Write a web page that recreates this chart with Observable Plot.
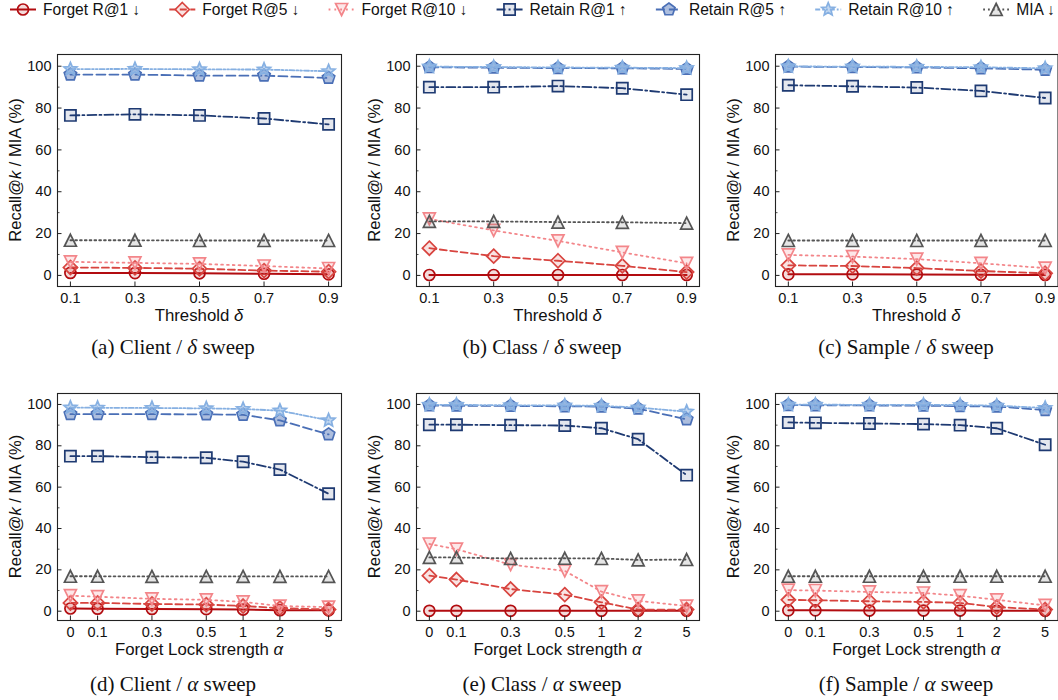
<!DOCTYPE html>
<html><head><meta charset="utf-8">
<script src="https://cdn.jsdelivr.net/npm/d3@7"></script>
<script src="https://cdn.jsdelivr.net/npm/@observablehq/plot@0.6"></script>
<style>
body{margin:0;background:#fff;}
#root{position:relative;width:1058px;height:700px;overflow:hidden;font-family:"Liberation Sans",Arial,sans-serif;background:#fff;}
#root svg{position:absolute;}
</style></head><body><div id="root"></div>
<script>
// ---------- data ----------
const deltaX = [0.1, 0.3, 0.5, 0.7, 0.9];
const deltaLabels = ["0.1", "0.3", "0.5", "0.7", "0.9"];
const alphaX = [0, 0.1, 0.3, 0.5, 1, 2, 5];
const alphaLabels = ["0", "0.1", "0.3", "0.5", "1", "2", "5"];
const yTicks = [0, 20, 40, 60, 80, 100];
const yMinor = [10, 30, 50, 70, 90];

const seriesKeys = ["F1", "F5", "F10", "R1", "R5", "R10", "MIA"];
const seriesLabels = ["Forget R@1 ↓", "Forget R@5 ↓", "Forget R@10 ↓", "Retain R@1 ↑", "Retain R@5 ↑", "Retain R@10 ↑", "MIA ↓"];
const seriesColors = ["#b20c10", "#d8443f", "#f3868a", "#1e3a72", "#4a6fb6", "#86b0e2", "#555555"];

// values in series order: F1, F5, F10, R1, R5, R10, MIA
const clientDelta = [
  [1.2, 1.1, 1.0, 0.8, 0.5],
  [3.8, 3.6, 3.2, 2.3, 1.8],
  [6.5, 6.0, 5.5, 4.5, 3.3],
  [76.5, 77.0, 76.5, 75.0, 72.2],
  [96.0, 96.0, 95.5, 95.5, 94.4],
  [98.6, 98.7, 98.5, 98.4, 97.6],
  [16.8, 16.8, 16.7, 16.7, 16.7]
];
const classDelta = [
  [0.2, 0.2, 0.2, 0.2, 0.2],
  [13.0, 9.2, 7.0, 4.6, 1.6],
  [27.0, 21.5, 16.5, 11.0, 5.8],
  [90.0, 90.0, 90.5, 89.5, 86.4],
  [99.5, 99.3, 99.1, 99.0, 98.7],
  [99.8, 99.6, 99.4, 99.3, 99.1],
  [25.8, 25.8, 25.5, 25.4, 25.0]
];
const sampleDelta = [
  [0.5, 0.5, 0.4, 0.3, 0.2],
  [4.8, 4.5, 3.5, 2.1, 1.0],
  [9.8, 9.0, 7.8, 5.8, 3.5],
  [90.9, 90.4, 89.8, 88.2, 84.8],
  [99.8, 99.6, 99.4, 99.0, 98.3],
  [99.9, 99.8, 99.7, 99.5, 99.0],
  [16.7, 16.7, 16.7, 16.7, 16.7]
];
const clientAlpha = [
  [1.3, 1.2, 1.1, 1.0, 0.8, 0.5, 0.4],
  [4.0, 4.0, 3.5, 3.2, 2.5, 1.5, 0.8],
  [7.5, 7.0, 6.0, 5.5, 4.5, 2.5, 2.0],
  [75.0, 75.0, 74.5, 74.2, 72.3, 68.5, 56.8],
  [95.3, 95.3, 95.3, 95.2, 95.0, 92.3, 85.5],
  [98.5, 98.4, 98.3, 98.1, 97.8, 97.0, 92.3],
  [16.9, 16.9, 16.8, 16.8, 16.8, 16.8, 16.8]
];
const classAlpha = [
  [0.2, 0.2, 0.2, 0.2, 0.2, 0.2, 0.2],
  [17.2, 15.3, 10.7, 8.0, 4.3, 0.8, 0.8],
  [32.5, 30.0, 22.5, 19.5, 9.5, 5.0, 2.5],
  [90.2, 90.2, 90.0, 89.8, 88.5, 83.2, 65.8],
  [99.5, 99.4, 99.3, 99.1, 99.0, 98.0, 92.8],
  [99.8, 99.8, 99.6, 99.5, 99.3, 98.5, 96.5],
  [26.0, 26.0, 25.5, 25.6, 25.5, 24.8, 25.0]
];
const sampleAlpha = [
  [0.4, 0.4, 0.3, 0.3, 0.3, 0.2, 0.2],
  [5.5, 5.3, 4.8, 4.5, 4.0, 2.0, 0.8],
  [10.2, 10.0, 9.3, 8.8, 7.5, 5.5, 2.8],
  [91.3, 91.1, 90.8, 90.5, 90.0, 88.5, 80.5],
  [99.7, 99.6, 99.5, 99.4, 99.2, 99.0, 97.3],
  [99.9, 99.9, 99.8, 99.8, 99.7, 99.4, 98.3],
  [16.9, 16.9, 16.9, 16.9, 16.9, 16.9, 16.9]
];

// ---------- styles ----------
const poly = (pts) => ({draw(ctx, size) {
  const R = Math.sqrt(size / Math.PI);
  pts.forEach(([x, y], i) => i ? ctx.lineTo(x * R, y * R) : ctx.moveTo(x * R, y * R));
  ctx.closePath();
}});
const diamondSym = poly([[0, -1], [1, 0], [0, 1], [-1, 0]]);
const triDownSym = poly([[0, 1], [-1, -1], [1, -1]]);
const triUpSym = poly([[0, -1], [1, 1], [-1, 1]]);
const squareSym = poly([[-1, -1], [1, -1], [1, 1], [-1, 1]]);
const pentSym = poly(d3.range(5).map(k => { const a = -Math.PI / 2 + k * 2 * Math.PI / 5; return [Math.cos(a), Math.sin(a)]; }));
const starSym = poly(d3.range(10).map(k => { const a = -Math.PI / 2 + k * Math.PI / 5, rr = k % 2 ? 0.45 : 1; return [rr * Math.cos(a), rr * Math.sin(a)]; }));

const seriesStyle = [
  {symbol: d3.symbolCircle, r: 5.5, dash: null, lw: 2.0, fo: 0.15},
  {symbol: diamondSym, r: 7, dash: "7,3.5", lw: 1.8, fo: 0.15},
  {symbol: triDownSym, r: 6, dash: "1.8,4", lw: 1.8, fo: 0.2},
  {symbol: squareSym, r: 5.6, dash: "9,3,2,3", lw: 1.8, fo: 0.12},
  {symbol: pentSym, r: 6.5, dash: "9,4", lw: 1.8, fo: 0.45},
  {symbol: starSym, r: 6.8, dash: "5,2,1.8,2,1.8,2", lw: 1.8, fo: 0.5},
  {symbol: triUpSym, r: 6, dash: "1.8,3", lw: 1.8, fo: 0.15}
];

function symlogA(v) {
  const c = 0.5, ls = 1 / (1 - 1 / 10);
  return Math.abs(v) <= c ? v * ls : Math.sign(v) * c * (ls + Math.log10(Math.abs(v) / c));
}

const root = document.getElementById("root");

// ---------- panels ----------
const colFrames = [[57, 341], [416, 699], [775, 1057.5]];
const rowFrames = [[54, 286], [393, 620]];
const panels = [
  {vals: clientDelta, row: 0, col: 0, kind: "delta", cap: ["(a) Client / ", "δ", " sweep"]},
  {vals: classDelta, row: 0, col: 1, kind: "delta", cap: ["(b) Class / ", "δ", " sweep"]},
  {vals: sampleDelta, row: 0, col: 2, kind: "delta", cap: ["(c) Sample / ", "δ", " sweep"]},
  {vals: clientAlpha, row: 1, col: 0, kind: "alpha", cap: ["(d) Client / ", "α", " sweep"]},
  {vals: classAlpha, row: 1, col: 1, kind: "alpha", cap: ["(e) Class / ", "α", " sweep"]},
  {vals: sampleAlpha, row: 1, col: 2, kind: "alpha", cap: ["(f) Sample / ", "α", " sweep"]}
];
const capCenters = [173, 542, 906];
const capBaselines = [354, 691];

const mL = 57, mR = 8, mT = 8, mB = 52;

panels.forEach(p => {
  const [fl, fr] = colFrames[p.col];
  const [ft, fb] = rowFrames[p.row];
  const W = fr - fl, H = fb - ft;
  const isA = p.kind === "alpha";
  const xs = isA ? alphaX.map(symlogA) : deltaX;
  const labels = isA ? alphaLabels : deltaLabels;
  const labelMap = new Map(xs.map((x, i) => [x.toFixed(6), labels[i]]));
  const xDomain = isA ? [-0.0528, symlogA(5) + 0.0528] : [0.06, 0.94];
  const yDomain = p.row === 0 ? [-5.3, 105.6] : [-4.5, 105.3];

  const marks = [];
  seriesKeys.forEach((k, si) => {
    const rows = xs.map((x, i) => ({x, y: p.vals[si][i]}));
    const st = seriesStyle[si];
    marks.push(Plot.line(rows, {x: "x", y: "y", stroke: seriesColors[si], strokeWidth: st.lw, strokeDasharray: st.dash}));
    marks.push(Plot.dot(rows, {x: "x", y: "y", symbol: st.symbol, r: st.r, stroke: seriesColors[si], strokeWidth: 1.7, fill: seriesColors[si], fillOpacity: st.fo}));
  });
  marks.push(Plot.tickY(yTicks, {y: d => d, insetRight: W - 4.5, stroke: "#222", strokeWidth: 1}));
  marks.push(Plot.tickY(yMinor, {y: d => d, insetRight: W - 2.5, stroke: "#222", strokeWidth: 0.8}));
  marks.push(Plot.tickX(xs, {x: d => d, insetTop: H - 4.5, stroke: "#222", strokeWidth: 1}));
  marks.push(Plot.frame({stroke: "#222", strokeWidth: 1.1}));

  const svg = Plot.plot({
    width: W + mL + mR, height: H + mT + mB,
    marginLeft: mL, marginRight: mR, marginTop: mT, marginBottom: mB,
    style: {fontSize: "14.5px", fontFamily: "'Liberation Sans', Arial, sans-serif", color: "#111", background: "transparent", overflow: "visible"},
    x: {domain: xDomain, ticks: xs, tickFormat: d => labelMap.get((+d).toFixed(6)) ?? "", tickSize: 0, tickPadding: 6, label: null},
    y: {domain: yDomain, ticks: yTicks, tickSize: 0, tickPadding: 6, label: null},
    marks
  });
  svg.style.left = (fl - mL) + "px";
  svg.style.top = (ft - mT) + "px";
  const s = d3.select(svg);
  const yl = s.append("text")
    .attr("transform", `translate(15,${mT + H / 2}) rotate(-90)`)
    .attr("text-anchor", "middle").attr("dy", "0.35em")
    .attr("font-size", "16.5px").attr("fill", "#111");
  yl.append("tspan").text("Recall@");
  yl.append("tspan").attr("font-style", "italic").text("k");
  yl.append("tspan").text(" / MIA (%)");
  const xl = s.append("text")
    .attr("x", mL + W / 2).attr("y", mT + H + 35)
    .attr("text-anchor", "middle").attr("font-size", "16.8px").attr("fill", "#111");
  xl.append("tspan").text(isA ? "Forget Lock strength " : "Threshold ");
  xl.append("tspan").attr("font-style", "italic").text(isA ? "α" : "δ");
  root.appendChild(svg);
});

// ---------- overlay: legend + captions ----------
const ov = d3.select(root).append("svg").attr("width", 1058).attr("height", 700)
  .style("left", "0px").style("top", "0px").style("pointer-events", "none");

panels.forEach(p => {
  const t = ov.append("text").attr("x", capCenters[p.col]).attr("y", capBaselines[p.row])
    .attr("text-anchor", "middle")
    .attr("font-family", "'Liberation Serif', 'Times New Roman', serif")
    .attr("font-size", "21px").attr("fill", "#111");
  t.append("tspan").text(p.cap[0]);
  t.append("tspan").attr("font-style", "italic").text(p.cap[1]);
  t.append("tspan").text(p.cap[2]);
});

let lx = 10;
const ly = 9.5;
seriesKeys.forEach((k, si) => {
  const st = seriesStyle[si];
  const g = ov.append("g");
  g.append("line").attr("x1", lx).attr("x2", lx + 26).attr("y1", ly).attr("y2", ly)
    .attr("stroke", seriesColors[si]).attr("stroke-width", st.lw)
    .attr("stroke-dasharray", st.dash);
  g.append("path").attr("transform", `translate(${lx + 13},${ly})`)
    .attr("d", d3.symbol(st.symbol, st.r * st.r * Math.PI)())
    .attr("stroke", seriesColors[si]).attr("stroke-width", 1.7)
    .attr("fill", seriesColors[si]).attr("fill-opacity", st.fo);
  const txt = g.append("text").attr("x", lx + 33).attr("y", ly).attr("dy", "0.36em")
    .attr("font-family", "'Liberation Sans', Arial, sans-serif")
    .attr("font-size", "15.6px").attr("fill", "#111").text(seriesLabels[si]);
  const w = txt.node().getComputedTextLength();
  lx += 33 + w + 29;
});
</script></body></html>
